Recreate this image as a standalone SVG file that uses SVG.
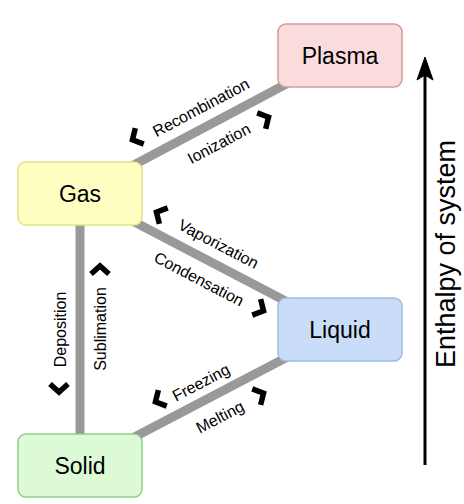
<svg xmlns="http://www.w3.org/2000/svg" width="464" height="504" viewBox="0 0 464 504">
<style>
.node{stroke-width:1.5}
.lbl{font-family:"Liberation Sans",Arial,sans-serif;font-size:23px;fill:#000;text-anchor:middle;dominant-baseline:central}
.elbl{font-family:"Liberation Sans",Arial,sans-serif;font-size:16px;fill:#000;text-anchor:middle;dominant-baseline:central}
.edge{stroke:#999999;stroke-width:9;fill:none}
.chev{stroke:#000;stroke-width:5.5;fill:none;stroke-linejoin:miter;stroke-miterlimit:10}
</style>
<defs>
<path id="chev" d="M-4,-9 L4,0 L-4,9"/>
</defs>
<rect width="464" height="504" fill="#ffffff"/>
<g id="connectors">
<line class="edge" x1="80" y1="193.5" x2="340" y2="55.5"/>
<line class="edge" x1="80" y1="193.5" x2="340" y2="329.5"/>
<line class="edge" x1="80" y1="193.5" x2="80" y2="465.5"/>
<line class="edge" x1="80" y1="465.5" x2="340" y2="329.5"/>
<g class="chev">
<use href="#chev" transform="translate(136,138) rotate(152.1)"/>
<use href="#chev" transform="translate(265,119) rotate(-27.9)"/>
<use href="#chev" transform="translate(160,214) rotate(207.6)"/>
<use href="#chev" transform="translate(260,309) rotate(27.6)"/>
<use href="#chev" transform="translate(100,270) rotate(-90)"/>
<use href="#chev" transform="translate(59,388) rotate(90)"/>
<use href="#chev" transform="translate(159,400) rotate(152.4)"/>
<use href="#chev" transform="translate(260,395) rotate(-27.6)"/>
</g>
<text class="elbl" transform="translate(201,107.5) rotate(-27.9)">Recombination</text>
<text class="elbl" transform="translate(219,143.5) rotate(-27.9)">Ionization</text>
<text class="elbl" transform="translate(218.5,244) rotate(27.6)">Vaporization</text>
<text class="elbl" transform="translate(199,279) rotate(27.6)">Condensation</text>
<text class="elbl" transform="translate(60,329.5) rotate(-90)">Deposition</text>
<text class="elbl" transform="translate(100,329) rotate(-90)">Sublimation</text>
<text class="elbl" transform="translate(201,382.5) rotate(-27.6)">Freezing</text>
<text class="elbl" transform="translate(220,417) rotate(-27.6)">Melting</text>
</g>
<g id="plasma">
<rect class="node" x="278" y="24" width="124" height="63" rx="8" fill="#fbdcdc" stroke="#d49a9a"/>
<text class="lbl" x="340" y="55.5">Plasma</text>
</g>
<g id="gas">
<rect class="node" x="18" y="162" width="124" height="63" rx="8" fill="#ffffc2" stroke="#e2e28c"/>
<text class="lbl" x="80" y="193.5">Gas</text>
</g>
<g id="liquid">
<rect class="node" x="278" y="298" width="124" height="63" rx="8" fill="#c9ddf9" stroke="#9cbce4"/>
<text class="lbl" x="340" y="329.5">Liquid</text>
</g>
<g id="solid">
<rect class="node" x="18" y="434" width="124" height="63" rx="8" fill="#dcfad6" stroke="#8fcf88"/>
<text class="lbl" x="80" y="465.5">Solid</text>
</g>
<g id="axis">
<line x1="425" y1="465" x2="425" y2="72" stroke="#000" stroke-width="3"/>
<path d="M425,57 L433,80 L425,75 L417,80 Z" fill="#000" stroke="#000" stroke-width="1"/>
<text class="lbl" transform="translate(446,254) rotate(-90)" style="font-size:27px">Enthalpy of system</text>
</g>
</svg>
